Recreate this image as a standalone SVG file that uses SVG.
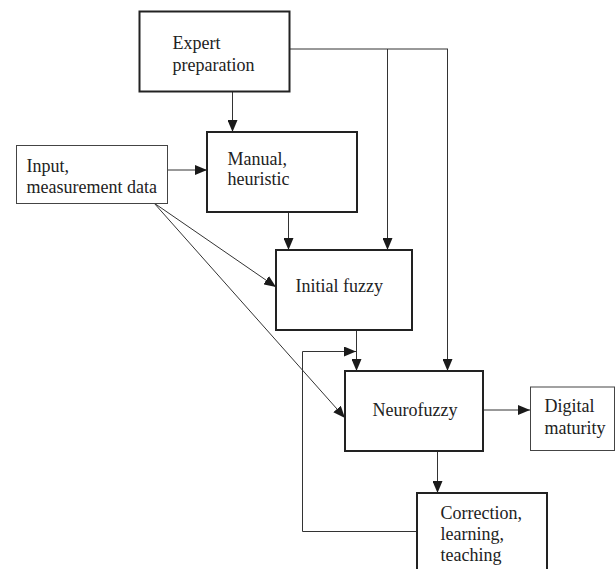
<svg xmlns="http://www.w3.org/2000/svg" width="615" height="569" viewBox="0 0 615 569">
<defs>
<marker id="ah" markerUnits="userSpaceOnUse" markerWidth="12" markerHeight="10" viewBox="0 0 12 10" refX="12" refY="5" orient="auto">
<path d="M0,0 L12,5 L0,10 z" fill="#1a1a1a"/>
</marker>
<style>
.thick{fill:#fff;stroke:#222;stroke-width:2}
.thin{fill:#fff;stroke:#444;stroke-width:1}
.c{fill:none;stroke:#333;stroke-width:1}
.a{marker-end:url(#ah)}
text{font-family:"Liberation Serif","Times New Roman",serif;font-size:18px;fill:#222}
</style>
</defs>
<rect width="615" height="569" fill="#fff"/>
<g id="connectors">
<path class="c a" d="M232.5,91 V132"/>
<path class="c" d="M289,49 H448"/>
<path class="c a" d="M387.5,49 V250"/>
<path class="c a" d="M447.5,49 V371"/>
<path class="c a" d="M168,170 H207"/>
<path class="c a" d="M288.5,212 V250"/>
<path class="c a" d="M154,203 L276,287"/>
<path class="c a" d="M154,203 L345,418"/>
<path class="c a" d="M356.5,330 V371"/>
<path class="c a" d="M417,531.5 H302.5 V351.5 H356"/>
<path class="c a" d="M483,410 H530"/>
<path class="c a" d="M437.5,451 V493"/>
</g>
<g id="expert">
<rect class="thick" x="139.5" y="11.5" width="150" height="80"/>
<text x="172.5" y="49">Expert</text>
<text x="172.5" y="71">preparation</text>
</g>
<g id="input">
<rect class="thin" x="16.5" y="145.5" width="151" height="58"/>
<text x="26.5" y="171.5">Input,</text>
<text x="26.5" y="192.5">measurement data</text>
</g>
<g id="manual">
<rect class="thick" x="207" y="132" width="150" height="80"/>
<text x="227.5" y="164.5">Manual,</text>
<text x="227.5" y="185">heuristic</text>
</g>
<g id="initial">
<rect class="thick" x="276" y="250" width="136" height="80"/>
<text x="295.5" y="291.5">Initial fuzzy</text>
</g>
<g id="neurofuzzy">
<rect class="thick" x="345" y="371" width="138" height="80"/>
<text x="372.5" y="416">Neurofuzzy</text>
</g>
<g id="digital">
<rect class="thin" x="530.5" y="387" width="84" height="63.5"/>
<text x="544.5" y="411.5">Digital</text>
<text x="544.5" y="433.5">maturity</text>
</g>
<g id="correction">
<rect class="thick" x="417" y="493" width="130" height="85"/>
<text x="440.5" y="518.5">Correction,</text>
<text x="440.5" y="540">learning,</text>
<text x="440.5" y="561">teaching</text>
</g>
</svg>
